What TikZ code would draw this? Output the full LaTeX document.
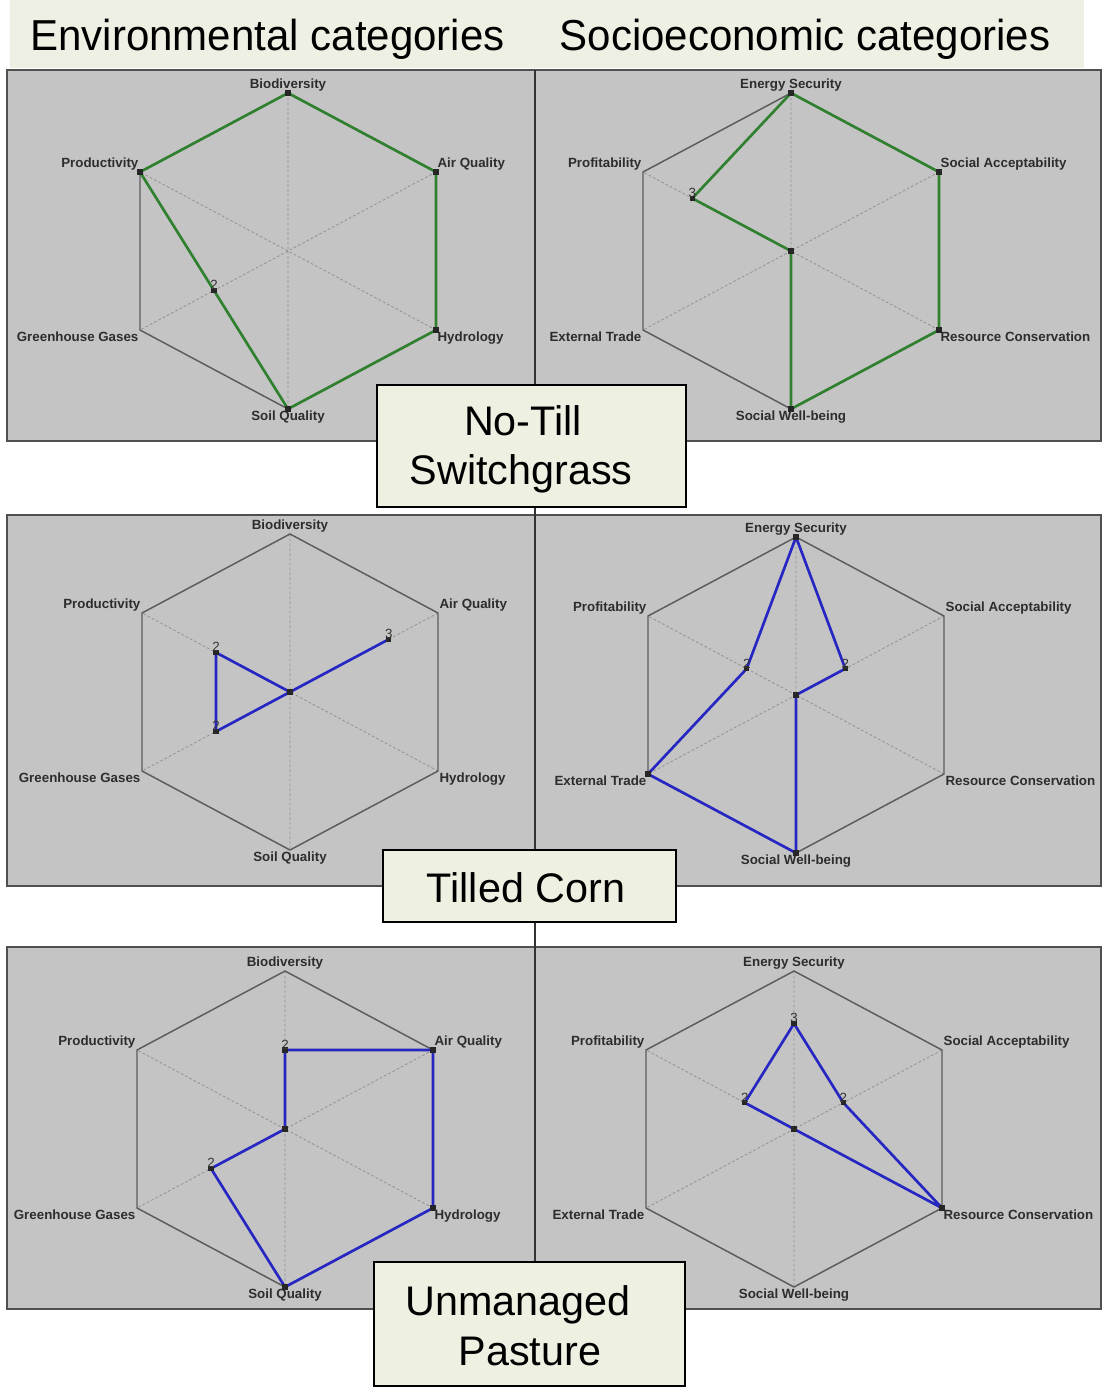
\documentclass[tikz,border=0pt]{standalone}
\usepackage{fontspec}
\setmainfont{Liberation Sans}
\usetikzlibrary{calc}
\definecolor{bandc}{RGB}{238,240,227}
\definecolor{boxc}{RGB}{238,240,226}
\definecolor{panelc}{RGB}{196,196,196}
\definecolor{framec}{RGB}{80,80,80}
\definecolor{hexc}{RGB}{92,92,92}
\definecolor{spokec}{RGB}{145,145,145}
\definecolor{greenl}{RGB}{48,128,48}
\definecolor{bluel}{RGB}{38,38,195}
\definecolor{labc}{RGB}{45,45,45}
\newcommand{\radar}[3]{%
  \coordinate (#1c) at (#2,#3);
  \coordinate (#1v1) at (#2,#3-158);
  \coordinate (#1v2) at (#2+148,#3-79);
  \coordinate (#1v3) at (#2+148,#3+79);
  \coordinate (#1v4) at (#2,#3+158);
  \coordinate (#1v5) at (#2-148,#3+79);
  \coordinate (#1v6) at (#2-148,#3-79);
  \draw[spoke] (#1v1)--(#1v4) (#1v2)--(#1v5) (#1v3)--(#1v6);
  \draw[hexline] (#1v1)--(#1v2)--(#1v3)--(#1v4)--(#1v5)--(#1v6)--cycle;
}
\newcommand{\envlabels}[1]{%
  \node[axl,anchor=south] (#1l1) at (#1v1) {Biodiversity};
  \node[axl,anchor=south west] (#1l2) at (#1v2) {Air Quality};
  \node[axl,anchor=north west] (#1l3) at (#1v3) {Hydrology};
  \node[axl,anchor=north] (#1l4) at (#1v4) {Soil Quality};
  \node[axl,anchor=north east] (#1l5) at (#1v5) {Greenhouse Gases};
  \node[axl,anchor=south east] (#1l6) at (#1v6) {Productivity};
}
\newcommand{\soclabels}[1]{%
  \node[axl,anchor=south] (#1l1) at (#1v1) {Energy Security};
  \node[axl,anchor=south west] (#1l2) at (#1v2) {Social Acceptability};
  \node[axl,anchor=north west] (#1l3) at (#1v3) {Resource Conservation};
  \node[axl,anchor=north] (#1l4) at (#1v4) {Social Well-being};
  \node[axl,anchor=north east] (#1l5) at (#1v5) {External Trade};
  \node[axl,anchor=south east] (#1l6) at (#1v6) {Profitability};
}
% name, chart, fraction, vertex
\newcommand{\dpt}[4]{\coordinate (#1) at ($(#2c)!#3!(#2v#4)$);}
\newcommand{\drawmarks}[1]{%
  \foreach \q in {1,...,6} {\node[mk] (m#1\q) at (#1p\q) {};}
}
\begin{document}
\begin{tikzpicture}[x=0.75pt,y=-0.75pt,
  spoke/.style={draw=spokec,line width=0.6pt,dash pattern=on 2pt off 1.6pt},
  hexline/.style={draw=hexc,line width=1.1pt,line join=miter},
  axl/.style={font=\fontsize{10}{11}\selectfont\bfseries,text=labc,inner sep=1pt},
  gline/.style={draw=greenl,line width=2pt,line join=round},
  bline/.style={draw=bluel,line width=2pt,line join=round},
  mk/.style={rectangle,fill=black!85,inner sep=0pt,minimum size=3.8pt},
  val/.style={font=\fontsize{10}{10}\selectfont,text=black!80,inner sep=0.3pt,anchor=south},
  panel/.style={fill=panelc,draw=framec,line width=1.1pt},
  catbox/.style={rectangle,fill=boxc,draw=black,line width=1.5pt,inner sep=0pt},
  boxtext/.style={font=\fontsize{31}{31}\selectfont,inner sep=0pt,anchor=base},
  titletext/.style={font=\fontsize{32.5}{33}\selectfont,inner sep=0pt,anchor=base}]
\useasboundingbox (0,0) rectangle (1106,1390);
\fill[white] (0,0) rectangle (1106,1390);
% title band
\fill[bandc] (10,0) rectangle (1084,68);
\node[titletext] (tenv) at (267.5,50) {\scalebox{0.97}[1]{Environmental  categories}};
\node[titletext] (tsoc) at (805,50) {\scalebox{0.97}[1]{Socioeconomic  categories}};
% panels
\draw[panel] (7,70) rectangle (535,441);
\draw[panel] (535,70) rectangle (1101,441);
\draw[panel] (7,515) rectangle (535,886);
\draw[panel] (535,515) rectangle (1101,886);
\draw[panel] (7,947) rectangle (535,1309);
\draw[panel] (535,947) rectangle (1101,1309);
\draw[draw=black!80,line width=1.1pt] (535,70) -- (535,1309);
% ---- Row 1 left
\radar{a}{288}{251}
\envlabels{a}
\dpt{ap1}{a}{1}{1}\dpt{ap2}{a}{1}{2}\dpt{ap3}{a}{1}{3}
\dpt{ap4}{a}{1}{4}\dpt{ap5}{a}{0.5}{5}\dpt{ap6}{a}{1}{6}
\draw[gline] (ap1)--(ap2)--(ap3)--(ap4)--(ap5)--(ap6)--cycle;
\drawmarks{a}
\node[val] (va5) at (ap5) {2};
% ---- Row 1 right
\radar{b}{791}{251}
\soclabels{b}
\dpt{bp1}{b}{1}{1}\dpt{bp2}{b}{1}{2}\dpt{bp3}{b}{1}{3}
\dpt{bp4}{b}{1}{4}\dpt{bp5}{b}{0}{5}\dpt{bp6}{b}{0.667}{6}
\draw[gline] (bp1)--(bp2)--(bp3)--(bp4)--(bp5)--(bp6)--cycle;
\drawmarks{b}
\node[val] (vb6) at (bp6) {3};
% ---- Row 2 left
\radar{c}{290}{692}
\envlabels{c}
\dpt{cp1}{c}{0}{1}\dpt{cp2}{c}{0.667}{2}\dpt{cp3}{c}{0}{3}
\dpt{cp4}{c}{0}{4}\dpt{cp5}{c}{0.5}{5}\dpt{cp6}{c}{0.5}{6}
\draw[bline] (cp1)--(cp2)--(cp3)--(cp4)--(cp5)--(cp6)--cycle;
\drawmarks{c}
\node[val] (vc2) at (cp2) {3};
\node[val] (vc5) at (cp5) {2};
\node[val] (vc6) at (cp6) {2};
% ---- Row 2 right
\radar{d}{796}{695}
\soclabels{d}
\dpt{dp1}{d}{1}{1}\dpt{dp2}{d}{0.333}{2}\dpt{dp3}{d}{0}{3}
\dpt{dp4}{d}{1}{4}\dpt{dp5}{d}{1}{5}\dpt{dp6}{d}{0.333}{6}
\draw[bline] (dp1)--(dp2)--(dp3)--(dp4)--(dp5)--(dp6)--cycle;
\drawmarks{d}
\node[val] (vd2) at (dp2) {2};
\node[val] (vd6) at (dp6) {2};
% ---- Row 3 left
\radar{e}{285}{1129}
\envlabels{e}
\dpt{ep1}{e}{0.5}{1}\dpt{ep2}{e}{1}{2}\dpt{ep3}{e}{1}{3}
\dpt{ep4}{e}{1}{4}\dpt{ep5}{e}{0.5}{5}\dpt{ep6}{e}{0}{6}
\draw[bline] (ep1)--(ep2)--(ep3)--(ep4)--(ep5)--(ep6)--cycle;
\drawmarks{e}
\node[val] (ve1) at (ep1) {2};
\node[val] (ve5) at (ep5) {2};
% ---- Row 3 right
\radar{f}{794}{1129}
\soclabels{f}
\dpt{fp1}{f}{0.667}{1}\dpt{fp2}{f}{0.333}{2}\dpt{fp3}{f}{1}{3}
\dpt{fp4}{f}{0}{4}\dpt{fp5}{f}{0}{5}\dpt{fp6}{f}{0.333}{6}
\draw[bline] (fp1)--(fp2)--(fp3)--(fp4)--(fp5)--(fp6)--cycle;
\drawmarks{f}
\node[val] (vf1) at (fp1) {3};
\node[val] (vf2) at (fp2) {2};
\node[val] (vf6) at (fp6) {2};
% ---- category boxes
\node[catbox,minimum width=231.75pt,minimum height=91.5pt] (bx1) at (531,446) {};
\node[boxtext] (bx1a) at (523,435) {No-Till};
\node[boxtext] (bx1b) at (521,484) {Switchgrass};
\node[catbox,minimum width=219.75pt,minimum height=54pt] (bx2) at (529.5,886) {};
\node[boxtext] (bx2a) at (526,902) {Tilled Corn};
\node[catbox,minimum width=233.25pt,minimum height=93pt] (bx3) at (529.5,1324) {};
\node[boxtext] (bx3a) at (518,1315) {Unmanaged};
\node[boxtext] (bx3b) at (530,1365) {Pasture};
\end{tikzpicture}
\end{document}
